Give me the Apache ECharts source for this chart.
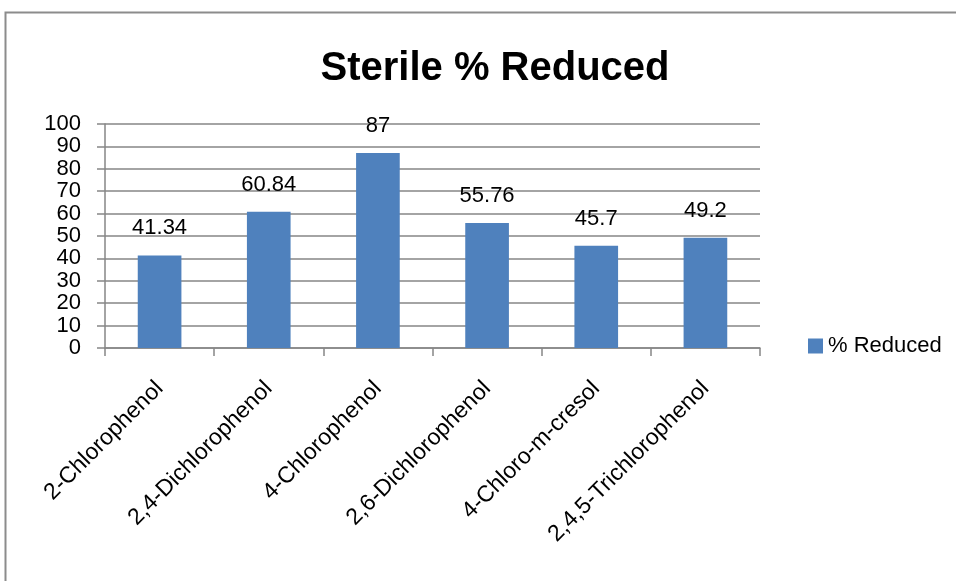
<!DOCTYPE html>
<html>
<head>
<meta charset="utf-8">
<script src="https://cdn.jsdelivr.net/npm/echarts@6/dist/echarts.min.js"></script>
<style>
  html, body { margin: 0; padding: 0; background: #fff; }
  #chart { width: 956px; height: 581px; }
</style>
</head>
<body>
<div id="chart"></div>
<script>
// Percentage reduction per compound, sterile conditions
const categories = ['2-Chlorophenol', '2,4-Dichlorophenol', '4-Chlorophenol', '2,6-Dichlorophenol', '4-Chloro-m-cresol', '2,4,5-Trichlorophenol'];
const reducedValues = [41.34, 60.84, 87, 55.76, 45.7, 49.2];
const seriesName = '% Reduced';
const chartTitle = 'Sterile % Reduced';

const FONT = '"Liberation Sans", Arial, sans-serif';
const chart = echarts.init(document.getElementById('chart'));

chart.setOption({
  backgroundColor: '#ffffff',
  animation: false,
  title: {
    text: chartTitle,
    left: 490,
    textAlign: 'center',
    top: 44,
    textStyle: { fontFamily: FONT, fontSize: 40, fontWeight: 'bold', color: '#000' }
  },
  legend: {
    data: [seriesName],
    left: 803,
    top: 330,
    itemWidth: 15,
    itemHeight: 15,
    itemGap: 6,
    icon: 'rect',
    textStyle: { fontFamily: FONT, fontSize: 22, color: '#000' }
  },
  grid: { left: 105, right: 196, top: 124, bottom: 233, containLabel: false },
  xAxis: {
    type: 'category',
    data: categories,
    axisLine: { lineStyle: { color: '#868686', width: 1.5 } },
    axisTick: { show: true, length: 8, lineStyle: { color: '#868686', width: 1.5 } },
    axisLabel: { rotate: 45, fontFamily: FONT, fontSize: 23, color: '#000', margin: 37, interval: 0 }
  },
  yAxis: {
    type: 'value',
    min: 0,
    max: 100,
    interval: 10,
    axisLine: { show: true, lineStyle: { color: '#868686', width: 1.5 } },
    axisTick: { show: true, inside: false, length: 8, lineStyle: { color: '#868686', width: 1.5 } },
    splitLine: { lineStyle: { color: '#868686', width: 1.5 } },
    axisLabel: { fontFamily: FONT, fontSize: 22, color: '#000', margin: 24 }
  },
  series: [{
    name: seriesName,
    type: 'bar',
    data: reducedValues,
    barWidth: '40%',
    itemStyle: { color: '#4F81BD' },
    label: {
      show: true,
      position: 'top',
      distance: 16,
      fontFamily: FONT,
      fontSize: 22,
      color: '#000'
    }
  }],
  graphic: [{
    type: 'rect',
    shape: { x: 5.5, y: 12.5, width: 1200, height: 1200 },
    style: { fill: 'none', stroke: '#8c8c8c', lineWidth: 2 },
    silent: true
  }]
});
</script>
</body>
</html>
